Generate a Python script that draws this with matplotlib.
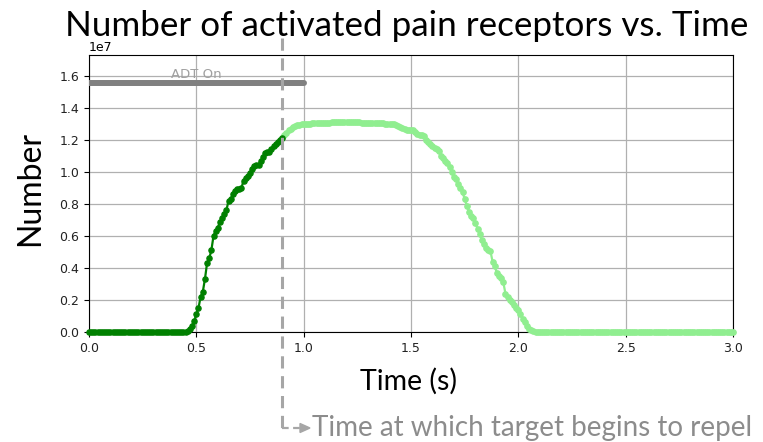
import numpy as np
import matplotlib
matplotlib.use("Agg")
import matplotlib.pyplot as plt

# ---------------- data ----------------
time_step = 0.01
n_points = 301  # 0.00 .. 3.00 s

# activated receptors (units of 1e7), one value per 0.01 s
rise_values = [0.005, 0.02, 0.04, 0.07, 0.11, 0.15, 0.22, 0.25, 0.33, 0.43,
               0.46, 0.51, 0.60, 0.63, 0.65, 0.69, 0.71, 0.74, 0.76, 0.82,
               0.83, 0.86, 0.88, 0.89, 0.895, 0.90, 0.945, 0.96, 0.975, 0.99,
               1.02, 1.035, 1.045, 1.045, 1.07, 1.09, 1.115, 1.125, 1.125, 1.145,
               1.16, 1.175, 1.185, 1.20, 1.212]  # 0.46 .. 0.90
plateau_values = [1.23, 1.245, 1.26, 1.27, 1.278, 1.285, 1.29, 1.295, 1.297, 1.298,
                  1.30, 1.30, 1.302, 1.303, 1.303, 1.305, 1.305, 1.306, 1.307, 1.307,
                  1.308, 1.308, 1.309, 1.31, 1.31, 1.31, 1.311, 1.311, 1.312, 1.312,
                  1.312, 1.312, 1.312, 1.31, 1.31, 1.31, 1.308, 1.307, 1.306, 1.305,
                  1.305, 1.305, 1.304, 1.304, 1.303, 1.303, 1.303, 1.302, 1.300, 1.298,
                  1.297, 1.296, 1.292, 1.285, 1.278, 1.272, 1.265, 1.262, 1.262, 1.262,
                  1.26, 1.25, 1.235, 1.23, 1.228, 1.225, 1.20, 1.185, 1.175, 1.162]  # 0.91 .. 1.60
fall_values = [1.15, 1.14, 1.128, 1.10, 1.085, 1.065, 1.055, 1.03, 1.00, 0.965,
               0.955, 0.925, 0.90, 0.875, 0.83, 0.79, 0.75, 0.725, 0.71, 0.68,
               0.645, 0.61, 0.575, 0.55, 0.525, 0.515, 0.505, 0.44, 0.41, 0.37,
               0.35, 0.335, 0.31, 0.24, 0.22, 0.20, 0.185, 0.17, 0.15, 0.135,
               0.11, 0.08, 0.06, 0.035, 0.02, 0.01, 0.005]  # 1.61 .. 2.07
leading_zeros = [0.0] * 46    # 0.00 .. 0.45
trailing_zeros = [0.0] * 93   # 2.08 .. 3.00

values = leading_zeros + rise_values + plateau_values + fall_values + trailing_zeros
time = np.round(np.arange(n_points) * time_step, 2)
values = np.array(values) * 1e7

repel_time = 0.9
adt_start, adt_end = 0.0, 1.0
adt_level = 1.555e7

title = "Number of activated pain receptors vs. Time"
annotation = "Time at which target begins to repel"

# ---------------- figure ----------------
W, H = 763, 442
fig = plt.figure(figsize=(W / 100, H / 100), dpi=100)
ax = fig.add_axes([89 / W, 1 - 332 / H, (733 - 89) / W, (332 - 55) / H])

TXT = ["Lato", "DejaVu Sans"]

pre = time <= repel_time + 1e-9
post = time >= repel_time - 1e-9
ax.plot(time[post], values[post], color="#90ee90", marker="o", markersize=3.8,
        linewidth=1.6, zorder=3, clip_on=False)
ax.plot(time[pre], values[pre], color="#008000", marker="o", markersize=3.7,
        linewidth=1.6, zorder=4, clip_on=False)

ax.plot([adt_start, adt_end], [adt_level, adt_level], color="#808080",
        linewidth=4.3, solid_capstyle="round", zorder=5)
ax.text((adt_start + adt_end) / 2, 1.585e7, "ADT On", ha="center", va="baseline",
        fontsize=9.5, color="#a0a0a0", zorder=6)

ax.set_xlim(0, 3.0)
ax.set_ylim(0, 1.73e7)
ax.set_xticks([0.0, 0.5, 1.0, 1.5, 2.0, 2.5, 3.0])
ax.set_yticks(np.arange(0, 1.61e7, 0.2e7))
ax.grid(True, color="#b0b0b0", linewidth=0.9)
ax.set_axisbelow(True)
ax.tick_params(labelsize=9, length=3.5, colors="#000000")
for lab in ax.get_xticklabels() + ax.get_yticklabels():
    lab.set_color("#222222")
ax.yaxis.get_offset_text().set_fontsize(9)

# titles / labels
fig.text(407 / W, 1 - 36 / H, title, ha="center", va="baseline",
         fontsize=25.2, family=TXT, color="black")
fig.text(30 / W, 1 - 188 / H, "Number", ha="center", va="center",
         rotation=90, fontsize=23, family=TXT, color="black")
fig.text(409 / W, 1 - 390 / H, "Time (s)", ha="center", va="baseline",
         fontsize=20.5, family=TXT, color="black")

# dashed marker line for repel time, with arrow to annotation
x_px = ax.transData.transform((repel_time, 0))[0]
xf = x_px / W
gray = "#a6a6a6"
fig.add_artist(plt.Line2D([xf, xf], [1 - 38 / H, 1 - 428 / H], color=gray,
                          linewidth=2.2, linestyle=(0, (4, 2.5)), transform=fig.transFigure))
fig.add_artist(plt.Line2D([xf, 300 / W], [1 - 428 / H, 1 - 428 / H], color=gray,
                          linewidth=1.6, linestyle=(0, (3, 2)), transform=fig.transFigure))
fig.add_artist(matplotlib.patches.FancyArrow(300 / W, 1 - 428 / H, 10 / W, 0,
               width=0.0, head_width=9 / H, head_length=10 / W, length_includes_head=True,
               color=gray, transform=fig.transFigure))
fig.text(312 / W, 1 - 428 / H, annotation, ha="left", va="center",
         fontsize=20, family=TXT, color="#8c8c8c")

fig.savefig("out.png", dpi=100)
